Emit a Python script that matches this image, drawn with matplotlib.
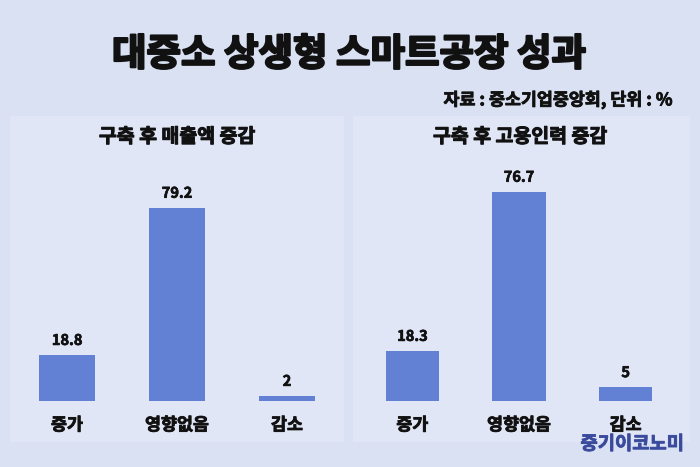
import matplotlib
matplotlib.use('Agg')
import matplotlib.pyplot as plt
import matplotlib.patheffects as pe
from matplotlib.patches import Rectangle

plt.rcParams['font.family'] = ['Noto Sans CJK KR', 'DejaVu Sans']

# ---- data ----
title = '대중소 상생형 스마트공장 성과'
source = '자료 : 중소기업중앙회, 단위 : %'
categories = ['증가', '영향없음', '감소']
sales_title = '구축 후 매출액 증감'
sales_values = [18.8, 79.2, 2]
employ_title = '구축 후 고용인력 증감'
employ_values = [18.3, 76.7, 5]
brand = '중기이코노미'

W, H = 700, 467
BG = '#d9e1f2'
PANEL = '#e0e6f6'
BAR = '#6381d4'
INK = '#111111'


def thick(lw, color=INK):
    return [pe.withStroke(linewidth=lw, foreground=color)]


fig = plt.figure(figsize=(7, 4.67), dpi=100)
fig.patch.set_facecolor(BG)


def fr(x0, y0, x1, y1):
    return [x0 / W, 1 - y1 / H, (x1 - x0) / W, (y1 - y0) / H]


def panel(x0, y0, x1, y1):
    fig.add_artist(Rectangle((x0 / W, 1 - y1 / H), (x1 - x0) / W, (y1 - y0) / H,
                             transform=fig.transFigure, facecolor=PANEL,
                             edgecolor='none', zorder=0))


panel(10, 116, 344, 442)
panel(353, 116, 690, 442)


def draw(rect, values, ymax, width, ptitle, tx):
    ax = fig.add_axes(rect)
    ax.patch.set_alpha(0)
    x = list(range(len(categories)))
    ax.bar(x, values, width=width, color=BAR, zorder=2)
    ax.set_xlim(-0.5, len(categories) - 0.5)
    ax.set_ylim(0, ymax)
    for s in ax.spines.values():
        s.set_visible(False)
    ax.set_yticks([])
    ax.set_xticks(x)
    ax.set_xticklabels(categories, fontsize=12.5, fontweight='bold', color=INK)
    for t in ax.get_xticklabels():
        t.set_path_effects(thick(0.6))
    ax.tick_params(axis='x', length=0, pad=11)
    for xi, v in zip(x, values):
        ax.annotate(f'{v:g}', (xi, v), xytext=(0, 11), textcoords='offset points',
                    ha='center', va='center', fontsize=10.5, fontweight='bold',
                    color=INK, path_effects=thick(0.5))
    fig.text(tx / W, 1 - 137 / H, ptitle, ha='center', va='center',
             fontsize=14, fontweight='bold', color=INK, path_effects=thick(0.7))


draw(fr(12, 150, 342, 401), sales_values, 251 / 2.437, 0.51, sales_title, 177)
draw(fr(359, 150, 679, 401), employ_values, 251 / 2.725, 0.5, employ_title, 520)

fig.text(349 / W, 1 - 54 / H, title, ha='center', va='center',
         fontsize=27, fontweight='bold', color=INK, path_effects=thick(1.6))
fig.text(673 / W, 1 - 100 / H, source, ha='right', va='center',
         fontsize=12.5, fontweight='bold', color=INK, path_effects=thick(0.6))
fig.text(684 / W, 1 - 444 / H, brand, ha='right', va='center',
         fontsize=13.5, fontweight='bold', color='#3a4b9e',
         path_effects=thick(0.6, '#3a4b9e'))

fig.savefig('out.png', dpi=100, facecolor=BG)
